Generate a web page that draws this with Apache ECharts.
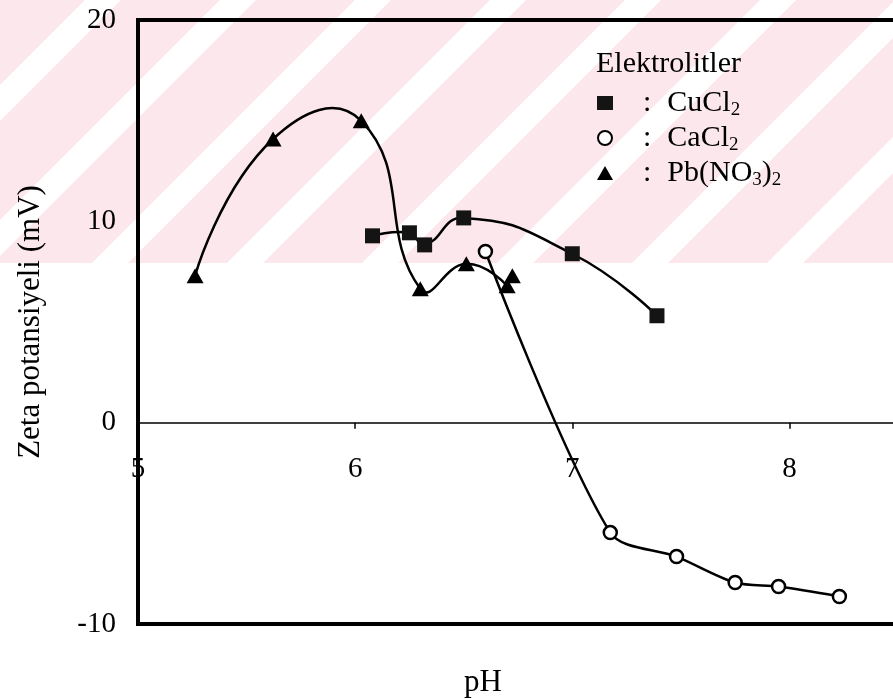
<!DOCTYPE html>
<html>
<head>
<meta charset="utf-8">
<script src="https://cdn.jsdelivr.net/npm/echarts@6/dist/echarts.min.js"></script>
<style>html,body{margin:0;padding:0;background:#fff}#c{width:893px;height:699px}</style>
</head>
<body>
<div id="c"></div>
<script>
// ---- data ----
const cuPH   = [6.08, 6.25, 6.32, 6.50, 7.00, 7.39];
const cuZeta = [9.28, 9.43, 8.83, 10.17, 8.39, 5.31];
const caPH   = [6.60, 7.175, 7.48, 7.75, 7.95, 8.23];
const caZeta = [8.5, -5.46, -6.65, -7.94, -8.14, -8.63];
const pbPH   = [5.263, 5.622, 6.028, 6.300, 6.512, 6.700];
const pbZeta = [7.30, 14.09, 14.99, 6.65, 7.89, 6.80];
const pbExtraPH   = [6.724];
const pbExtraZeta = [7.30];
const xTicks = [5, 6, 7, 8];
const yTicks = [-10, 0, 10, 20];
const seriesNames = ['CuCl2', 'CaCl2', 'Pb(NO3)2'];
const legendTitle = 'Elektrolitler';
const xTitle = 'pH';
const yTitle = 'Zeta potansiyeli (mV)';

const FONT = '"Liberation Serif", "Times New Roman", serif';
const zip = (a, b) => a.map((v, i) => [v, b[i]]);

const legendLabels = {
  'CuCl2': '{c|:}{f|CuCl}{s|2}',
  'CaCl2': '{c|:}{f|CaCl}{s|2}',
  'Pb(NO3)2': '{c|:}{f|Pb(NO}{s|3}{m|)}{s|2}'
};

// smooth curve through the data points (cardinal-type bezier, computed in pixel space via the axes)
function curveSeries(name, xs, ys, smooth) {
  return {
    name: name, type: 'custom', z: 2, silent: true, clip: true,
    data: xs.slice(0, -1).map((x, i) => [x, ys[i], i]),
    encode: {x: 0, y: 1},
    renderItem: function (params, api) {
      const i = api.value(2);
      const n = xs.length;
      const P = k => api.coord([xs[k], ys[k]]);
      const dist = (a, b) => Math.hypot(a[0] - b[0], a[1] - b[1]);
      const p1 = P(i), p2 = P(i + 1);
      let c1 = p1, c2 = p2;
      if (i > 0) {
        const p0 = P(i - 1);
        const d0 = dist(p0, p1), d1 = dist(p1, p2);
        const r = d1 / (d0 + d1);
        c1 = [p1[0] + (p2[0] - p0[0]) * smooth * r, p1[1] + (p2[1] - p0[1]) * smooth * r];
      }
      if (i + 2 < n) {
        const p3 = P(i + 2);
        const d0 = dist(p1, p2), d1 = dist(p2, p3);
        const r = d1 / (d0 + d1);
        c2 = [p2[0] - (p3[0] - p1[0]) * smooth * (1 - r), p2[1] - (p3[1] - p1[1]) * smooth * (1 - r)];
      }
      return {
        type: 'bezierCurve',
        shape: {x1: p1[0], y1: p1[1], cpx1: c1[0], cpy1: c1[1], cpx2: c2[0], cpy2: c2[1], x2: p2[0], y2: p2[1]},
        style: {stroke: '#000', lineWidth: 2.5, fill: null}
      };
    }
  };
}

// background watermark (decoration of the scanned page)
const wm = [];
wm.push({type: 'rect', z: -10, silent: true, shape: {x: 0, y: 0, width: 893, height: 263}, style: {fill: '#fce8ec'}});
for (let a = -50; a < 1300; a += 135) {
  wm.push({type: 'polygon', z: -9, silent: true,
    shape: {points: [[a, 0], [a + 36, 0], [a + 36 - 263, 263], [a - 263, 263]]},
    style: {fill: '#ffffff'}});
}

const chart = echarts.init(document.getElementById('c'), null, {renderer: 'canvas'});
chart.setOption({
  animation: false,
  backgroundColor: '#ffffff',
  textStyle: {fontFamily: FONT, color: '#000'},
  grid: {left: 138, top: 20, right: -5, bottom: 75, outerBoundsMode: 'none', containLabel: false,
    show: true, borderColor: '#000', borderWidth: 4, backgroundColor: 'transparent', z: 1},
  title: {text: legendTitle, left: 596, top: 49, padding: 0,
    textStyle: {fontFamily: FONT, fontSize: 30, fontWeight: 'normal', color: '#000'}},
  legend: {
    orient: 'vertical', left: 597, top: 88, padding: 0,
    itemWidth: 16, itemHeight: 14, itemGap: 3,
    selectedMode: false,
    data: [
      {name: seriesNames[0], icon: 'rect', itemStyle: {color: '#141414'}},
      {name: seriesNames[1], icon: 'emptyCircle', itemStyle: {color: '#000'}},
      {name: seriesNames[2], icon: 'triangle', itemStyle: {color: '#000'}}
    ],
    formatter: n => legendLabels[n],
    textStyle: {
      fontFamily: FONT, fontSize: 30, color: '#000',
      rich: {
        c: {fontFamily: FONT, fontSize: 30, color: '#000', padding: [0, 0, 0, 25]},
        f: {fontFamily: FONT, fontSize: 30, color: '#000', padding: [0, 0, 0, 16]},
        m: {fontFamily: FONT, fontSize: 30, color: '#000'},
        s: {fontFamily: FONT, fontSize: 19, color: '#000', padding: [15, 0, 0, 0]}
      }
    }
  },
  xAxis: {
    type: 'value', min: 5, max: 8.5, interval: 1,
    position: 'bottom', offset: -201.3,
    axisLine: {show: true, onZero: false, lineStyle: {color: '#000', width: 1.5}},
    axisTick: {show: true, length: 6, lineStyle: {color: '#000', width: 1.5}},
    splitLine: {show: false},
    axisLabel: {fontFamily: FONT, fontSize: 29, color: '#000', margin: 32,
      formatter: v => xTicks.includes(v) ? String(v) : ''}
  },
  yAxis: {
    type: 'value', min: -10, max: 20, interval: 10,
    name: yTitle, nameLocation: 'middle', nameGap: 92,
    nameTextStyle: {fontFamily: FONT, fontSize: 31, color: '#000'},
    axisLine: {show: false}, axisTick: {show: false}, splitLine: {show: false},
    axisLabel: {fontFamily: FONT, fontSize: 29, color: '#000', margin: 22,
      formatter: v => yTicks.includes(v) ? String(v) : ''}
  },
  graphic: wm.concat([
    {type: 'text', z: 10, x: 483, y: 683, style: {text: xTitle, font: '31px ' + FONT, fill: '#000', textAlign: 'center', textVerticalAlign: 'middle'}}
  ]),
  series: [
    curveSeries(seriesNames[0], cuPH, cuZeta, 0.5),
    curveSeries(seriesNames[1], caPH, caZeta, 0.3),
    curveSeries(seriesNames[2], pbPH, pbZeta, 0.5),
    {name: seriesNames[0], type: 'scatter', data: zip(cuPH, cuZeta),
      symbol: 'rect', symbolSize: 15, z: 4,
      itemStyle: {color: '#141414', opacity: 1}},
    {name: seriesNames[1], type: 'scatter', data: zip(caPH, caZeta),
      symbol: 'circle', symbolSize: 13, z: 4,
      itemStyle: {color: '#fff', borderColor: '#000', borderWidth: 2.5, opacity: 1}},
    {name: seriesNames[2], type: 'scatter', data: zip(pbPH, pbZeta),
      symbol: 'triangle', symbolSize: [17, 15], z: 4,
      itemStyle: {color: '#000', opacity: 1}},
    {name: seriesNames[2], type: 'scatter', data: zip(pbExtraPH, pbExtraZeta),
      symbol: 'triangle', symbolSize: [17, 15], z: 5,
      itemStyle: {color: '#000', opacity: 1}}
  ]
});
</script>
</body>
</html>
